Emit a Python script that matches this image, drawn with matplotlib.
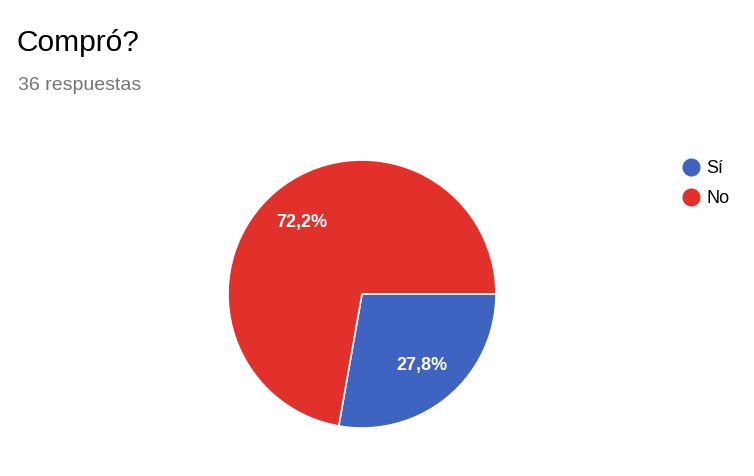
import matplotlib.pyplot as plt
from matplotlib.lines import Line2D

plt.rcParams['font.family'] = ['Liberation Sans', 'DejaVu Sans']

labels = ['Sí', 'No']
values = [10, 26]
colors = ['#3f63c0', '#e2302b']

fig = plt.figure(figsize=(7.54, 4.76), dpi=100)

fig.text(17 / 754, 1 - 43 / 476, 'Compró?', fontsize=21.5, color='black', va='center')
fig.text(18 / 754, 1 - 86 / 476, '36 respuestas', fontsize=14, color='#757575', va='center')

ax = fig.add_axes([(362 - 134) / 754, (476 - 294 - 134) / 476, 268 / 754, 268 / 476])
wedges, texts, autotexts = ax.pie(
    values, colors=colors, startangle=0, counterclock=False,
    autopct=lambda p: f'{p:.1f}%'.replace('.', ','), pctdistance=0.7,
    wedgeprops=dict(edgecolor='white', linewidth=1.2),
    textprops=dict(color='white', fontsize=13, fontweight='bold'))
ax.set_xlim(-1, 1)
ax.set_ylim(-1, 1)
ax.set_aspect('equal')
ax.axis('off')

handles = [Line2D([], [], marker='o', linestyle='', markersize=12,
                  markerfacecolor=c, markeredgecolor=c) for c in colors]
fig.legend(handles, labels, loc='upper left', bbox_to_anchor=(671 / 754, 1 - 153 / 476),
           frameon=False, fontsize=13, handletextpad=0.15, labelspacing=0.72,
           handlelength=1.4, borderaxespad=0)

fig.savefig('out.png', dpi=100)
